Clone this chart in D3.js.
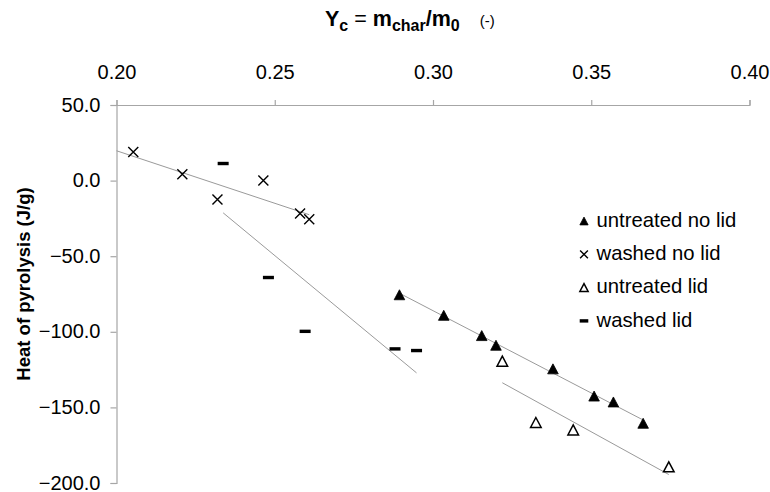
<!DOCTYPE html>
<html>
<head>
<meta charset="utf-8">
<script src="https://cdn.jsdelivr.net/npm/d3@7"></script>
<style>
  body { margin: 0; background: #fff; }
  svg { display: block; font-family: "Liberation Sans", Arimo, sans-serif; }
</style>
</head>
<body>
<svg id="chart" width="770" height="492"></svg>
<script>
// Char yield Yc (x) vs heat of pyrolysis in J/g (y), four sample groups
const untreatedNoLidX = [0.2894, 0.3034, 0.3154, 0.3199, 0.3379, 0.3509, 0.3570, 0.3664];
const untreatedNoLidY = [-75.5, -89.1, -102.5, -108.9, -124.5, -142.5, -146.4, -160.5];

const washedNoLidX = [0.2053, 0.2208, 0.2319, 0.2464, 0.2580, 0.2609];
const washedNoLidY = [18.9, 4.2, -12.5, 0.0, -21.7, -25.6];

const untreatedLidX = [0.3219, 0.3325, 0.3443, 0.3745];
const untreatedLidY = [-119.4, -160.0, -164.9, -189.3];

const washedLidX = [0.2337, 0.2480, 0.2596, 0.2880, 0.2948];
const washedLidY = [11.3, -64.1, -99.7, -111.3, -112.4];

const xTicks = [0.20, 0.25, 0.30, 0.35, 0.40];
const yTicks = [50, 0, -50, -100, -150, -200];

const seriesNames = ["untreated no lid", "washed no lid", "untreated lid", "washed lid"];

const series = [
  { name: seriesNames[0], xs: untreatedNoLidX, ys: untreatedNoLidY, marker: "triFilled", backcast: false },
  { name: seriesNames[1], xs: washedNoLidX, ys: washedNoLidY, marker: "cross", backcast: true },
  { name: seriesNames[2], xs: untreatedLidX, ys: untreatedLidY, marker: "triOpen", backcast: false },
  { name: seriesNames[3], xs: washedLidX, ys: washedLidY, marker: "dash", backcast: false }
];

const FONT = "'Liberation Sans', Arimo, sans-serif";
const svg = d3.select("#chart");
const x = d3.scaleLinear().domain([0.20, 0.40]).range([116.5, 749.5]);
const y = d3.scaleLinear().domain([-200, 50]).range([483, 105]);

const axisColor = "#a6a6a6";

// Top x axis
const gx = svg.append("g").attr("transform", `translate(0,${y(50)})`)
  .call(d3.axisTop(x).tickValues(xTicks).tickFormat(d3.format(".2f"))
    .tickSize(5).tickSizeOuter(5).tickPadding(21));
// Left y axis
const gy = svg.append("g").attr("transform", `translate(${x(0.20)},0)`)
  .call(d3.axisLeft(y).tickValues(yTicks).tickFormat(d3.format(".1f"))
    .tickSize(6).tickSizeOuter(6).tickPadding(10));

[gx, gy].forEach(g => {
  g.attr("font-family", FONT);
  g.selectAll("path.domain").attr("stroke", axisColor).attr("stroke-width", 1.2);
  g.selectAll(".tick line").attr("stroke", axisColor).attr("stroke-width", 1.2);
  g.selectAll(".tick text").attr("fill", "#000").attr("font-size", 20);
});
gy.selectAll(".tick text").attr("dy", "0.3em");

// Least-squares trendline for each group
function fit(xs, ys) {
  const mx = d3.mean(xs), my = d3.mean(ys);
  const sxy = d3.sum(xs, (v, i) => (v - mx) * (ys[i] - my));
  const sxx = d3.sum(xs, v => (v - mx) * (v - mx));
  const b = sxy / sxx;
  return v => my + b * (v - mx);
}

const trend = svg.append("g");
series.forEach(s => {
  const f = fit(s.xs, s.ys);
  const x0 = s.backcast ? x.domain()[0] : d3.min(s.xs);
  const x1 = d3.max(s.xs);
  trend.append("line")
    .attr("x1", x(x0)).attr("y1", y(f(x0)))
    .attr("x2", x(x1)).attr("y2", y(f(x1)))
    .attr("stroke", "#9a9a9a").attr("stroke-width", 1);
});

// Marker drawing
function drawMarker(g, type, cx, cy, k) {
  if (type === "triFilled" || type === "triOpen") {
    const hw = 5.3 * k, hh = 5 * k;
    const p = d3.path();
    p.moveTo(cx, cy - hh); p.lineTo(cx + hw, cy + hh); p.lineTo(cx - hw, cy + hh); p.closePath();
    g.append("path").attr("d", p.toString())
      .attr("fill", type === "triFilled" ? "#000" : "#fff")
      .attr("stroke", "#000").attr("stroke-width", type === "triFilled" ? 0.8 : 1.5)
      .attr("stroke-linejoin", "miter");
  } else if (type === "cross") {
    const r = 5 * k;
    g.append("path")
      .attr("d", `M${cx - r},${cy - r}L${cx + r},${cy + r}M${cx - r},${cy + r}L${cx + r},${cy - r}`)
      .attr("stroke", "#000").attr("stroke-width", 1.4).attr("fill", "none");
  } else if (type === "dash") {
    const w = 11 * k, h = 3.4;
    g.append("rect").attr("x", cx - w / 2).attr("y", cy - h / 2)
      .attr("width", w).attr("height", h).attr("fill", "#000");
  }
}

const marks = svg.append("g");
series.forEach(s => {
  s.xs.forEach((v, i) => drawMarker(marks, s.marker, x(v), y(s.ys[i]), 1));
});

// Legend
const legend = svg.append("g").attr("transform", "translate(584,219.5)")
  .attr("font-family", FONT);
series.forEach((s, i) => {
  const row = legend.append("g").attr("transform", `translate(0,${i * 33.3})`);
  drawMarker(row, s.marker, 0, 1.5, 0.78);
  row.append("text").attr("x", 12.5).attr("y", 0).attr("dy", "0.35em")
    .attr("font-size", 20.3).attr("fill", "#000").text(s.name);
});

// Axis titles
const xt = svg.append("text").attr("x", 325).attr("y", 26)
  .attr("font-family", FONT)
  .attr("font-size", 21.5).attr("font-weight", "bold").attr("fill", "#000");
xt.append("tspan").text("Y");
xt.append("tspan").attr("font-size", 16).attr("dy", 5).text("c");
xt.append("tspan").attr("dy", -5).attr("font-weight", "normal").text(" = ");
xt.append("tspan").text("m");
xt.append("tspan").attr("font-size", 16).attr("dy", 5).text("char");
xt.append("tspan").attr("dy", -5).text("/m");
xt.append("tspan").attr("font-size", 16).attr("dy", 5).text("0");
xt.append("tspan").attr("dy", -5).attr("font-size", 15).attr("font-weight", "normal")
  .attr("dx", 20).text("(-)");

svg.append("text")
  .attr("transform", "translate(30,284) rotate(-90)")
  .attr("text-anchor", "middle")
  .attr("font-family", FONT)
  .attr("font-size", 18.5).attr("font-weight", "bold").attr("fill", "#000")
  .text("Heat of pyrolysis (J/g)");
</script>
</body>
</html>
